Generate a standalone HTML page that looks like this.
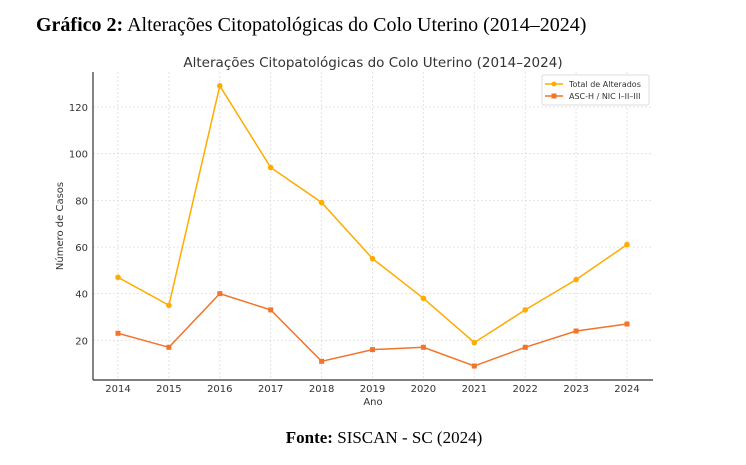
<!DOCTYPE html>
<html><head><meta charset="utf-8"><style>
body{margin:0;background:#fff;width:746px;height:460px;overflow:hidden}
</style></head><body>
<svg width="746" height="460" xmlns="http://www.w3.org/2000/svg">
<text x="36" y="31" font-family="Liberation Serif,serif" font-size="20" fill="#000"><tspan font-weight="bold">Gráfico 2:</tspan> Alterações Citopatológicas do Colo Uterino (2014–2024)</text>
<text x="373" y="67" text-anchor="middle" font-family="DejaVu Sans,sans-serif" font-size="13.5" fill="#333">Alterações Citopatológicas do Colo Uterino (2014–2024)</text>
<g stroke="#ddd" stroke-width="0.8" stroke-dasharray="2,2">
<line x1="118" y1="72" x2="118" y2="380"/><line x1="168.9" y1="72" x2="168.9" y2="380"/><line x1="219.8" y1="72" x2="219.8" y2="380"/><line x1="270.7" y1="72" x2="270.7" y2="380"/><line x1="321.6" y1="72" x2="321.6" y2="380"/><line x1="372.5" y1="72" x2="372.5" y2="380"/><line x1="423.4" y1="72" x2="423.4" y2="380"/><line x1="474.3" y1="72" x2="474.3" y2="380"/><line x1="525.2" y1="72" x2="525.2" y2="380"/><line x1="576.1" y1="72" x2="576.1" y2="380"/><line x1="627" y1="72" x2="627" y2="380"/>
<line x1="93" y1="107" x2="653" y2="107"/><line x1="93" y1="153.7" x2="653" y2="153.7"/><line x1="93" y1="200.4" x2="653" y2="200.4"/><line x1="93" y1="247.1" x2="653" y2="247.1"/><line x1="93" y1="293.6" x2="653" y2="293.6"/><line x1="93" y1="340.3" x2="653" y2="340.3"/>
</g>
<g stroke="#333" stroke-width="1.2"><line x1="93" y1="72" x2="93" y2="380"/><line x1="93" y1="380" x2="653" y2="380"/></g>
<g font-family="DejaVu Sans,sans-serif" font-size="10" fill="#333" text-anchor="end">
<text x="88" y="111">120</text><text x="88" y="157.7">100</text><text x="88" y="204.4">80</text><text x="88" y="251.1">60</text><text x="88" y="297.6">40</text><text x="88" y="344.3">20</text>
</g>
<g font-family="DejaVu Sans,sans-serif" font-size="10" fill="#333" text-anchor="middle">
<text x="118" y="392">2014</text><text x="168.9" y="392">2015</text><text x="219.8" y="392">2016</text><text x="270.7" y="392">2017</text><text x="321.6" y="392">2018</text><text x="372.5" y="392">2019</text><text x="423.4" y="392">2020</text><text x="474.3" y="392">2021</text><text x="525.2" y="392">2022</text><text x="576.1" y="392">2023</text><text x="627" y="392">2024</text>
<text x="373" y="405">Ano</text>
<text transform="translate(63,226) rotate(-90)">Número de Casos</text>
</g>
<polyline fill="none" stroke="#FFAB00" stroke-width="1.5" points="118,277.3 168.9,305.3 219.8,85.8 270.7,167.5 321.6,202.5 372.5,258.6 423.4,298.3 474.3,342.6 525.2,309.9 576.1,279.6 627,244.6"/>
<g fill="#FFAB00"><circle cx="118" cy="277.3" r="2.8"/><circle cx="168.9" cy="305.3" r="2.8"/><circle cx="219.8" cy="85.8" r="2.8"/><circle cx="270.7" cy="167.5" r="2.8"/><circle cx="321.6" cy="202.5" r="2.8"/><circle cx="372.5" cy="258.6" r="2.8"/><circle cx="423.4" cy="298.3" r="2.8"/><circle cx="474.3" cy="342.6" r="2.8"/><circle cx="525.2" cy="309.9" r="2.8"/><circle cx="576.1" cy="279.6" r="2.8"/><circle cx="627" cy="244.6" r="2.8"/></g>
<polyline fill="none" stroke="#F2742A" stroke-width="1.5" points="118,333.3 168.9,347.3 219.8,293.6 270.7,309.9 321.6,361.3 372.5,349.6 423.4,347.3 474.3,366 525.2,347.3 576.1,331 627,324"/>
<g fill="#F2742A"><rect x="115.5" y="330.8" width="5" height="5"/><rect x="166.4" y="344.8" width="5" height="5"/><rect x="217.3" y="291.1" width="5" height="5"/><rect x="268.2" y="307.4" width="5" height="5"/><rect x="319.1" y="358.8" width="5" height="5"/><rect x="370" y="347.1" width="5" height="5"/><rect x="420.9" y="344.8" width="5" height="5"/><rect x="471.8" y="363.5" width="5" height="5"/><rect x="522.7" y="344.8" width="5" height="5"/><rect x="573.6" y="328.5" width="5" height="5"/><rect x="624.5" y="321.5" width="5" height="5"/></g>
<rect x="542" y="75" width="107" height="30" rx="2" fill="#fff" stroke="#ddd"/>
<line x1="545" y1="84" x2="563" y2="84" stroke="#FFAB00" stroke-width="1.5"/><circle cx="554" cy="84" r="2.5" fill="#FFAB00"/>
<line x1="545" y1="96" x2="563" y2="96" stroke="#F2742A" stroke-width="1.5"/><rect x="551.5" y="93.5" width="5" height="5" fill="#F2742A"/>
<g font-family="DejaVu Sans,sans-serif" font-size="8" fill="#333"><text x="569" y="87">Total de Alterados</text><text x="569" y="99">ASC-H / NIC I–II–III</text></g>
<text x="384" y="443" text-anchor="middle" font-family="Liberation Serif,serif" font-size="17" fill="#000"><tspan font-weight="bold">Fonte:</tspan> SISCAN - SC (2024)</text>
</svg>
</body></html>
